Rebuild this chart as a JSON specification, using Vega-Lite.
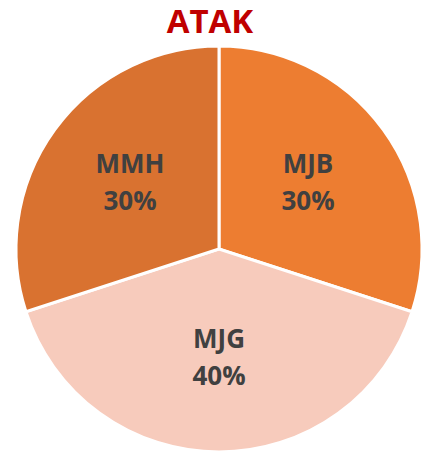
{
  "$schema": "https://vega.github.io/schema/vega-lite/v6.json",
  "width": 426,
  "height": 412,
  "padding": {"top": 7, "left": 6, "right": 0, "bottom": 6},
  "background": "white",
  "title": {"text": "ATAK", "color": "#C00000", "font": "Open Sans", "fontWeight": "bold", "fontSize": 33, "offset": 0, "dx": -9, "anchor": "middle"},
  "data": {"values": [
    {"group": "MJB", "share": 30, "label": "MJB\n30%", "idx": 1},
    {"group": "MJG", "share": 40, "label": "MJG\n40%", "idx": 2},
    {"group": "MMH", "share": 30, "label": "MMH\n30%", "idx": 3}
  ]},
  "encoding": {
    "theta": {"field": "share", "type": "quantitative", "stack": true},
    "order": {"field": "idx", "type": "quantitative"}
  },
  "layer": [
    {
      "mark": {"type": "arc", "outerRadius": 203, "stroke": "white", "strokeWidth": 3},
      "encoding": {
        "color": {"field": "group", "type": "nominal", "scale": {"domain": ["MJB", "MJG", "MMH"], "range": ["#ED7D31", "#F7CBBC", "#D97230"]}, "legend": null}
      }
    },
    {
      "mark": {"type": "text", "radius": 110, "dy": -19, "font": "Open Sans", "fontWeight": "bold", "fontSize": 26, "color": "#404040", "lineBreak": "\n", "lineHeight": 37, "align": "center", "baseline": "middle"},
      "encoding": {"text": {"field": "label"}}
    }
  ]
}
